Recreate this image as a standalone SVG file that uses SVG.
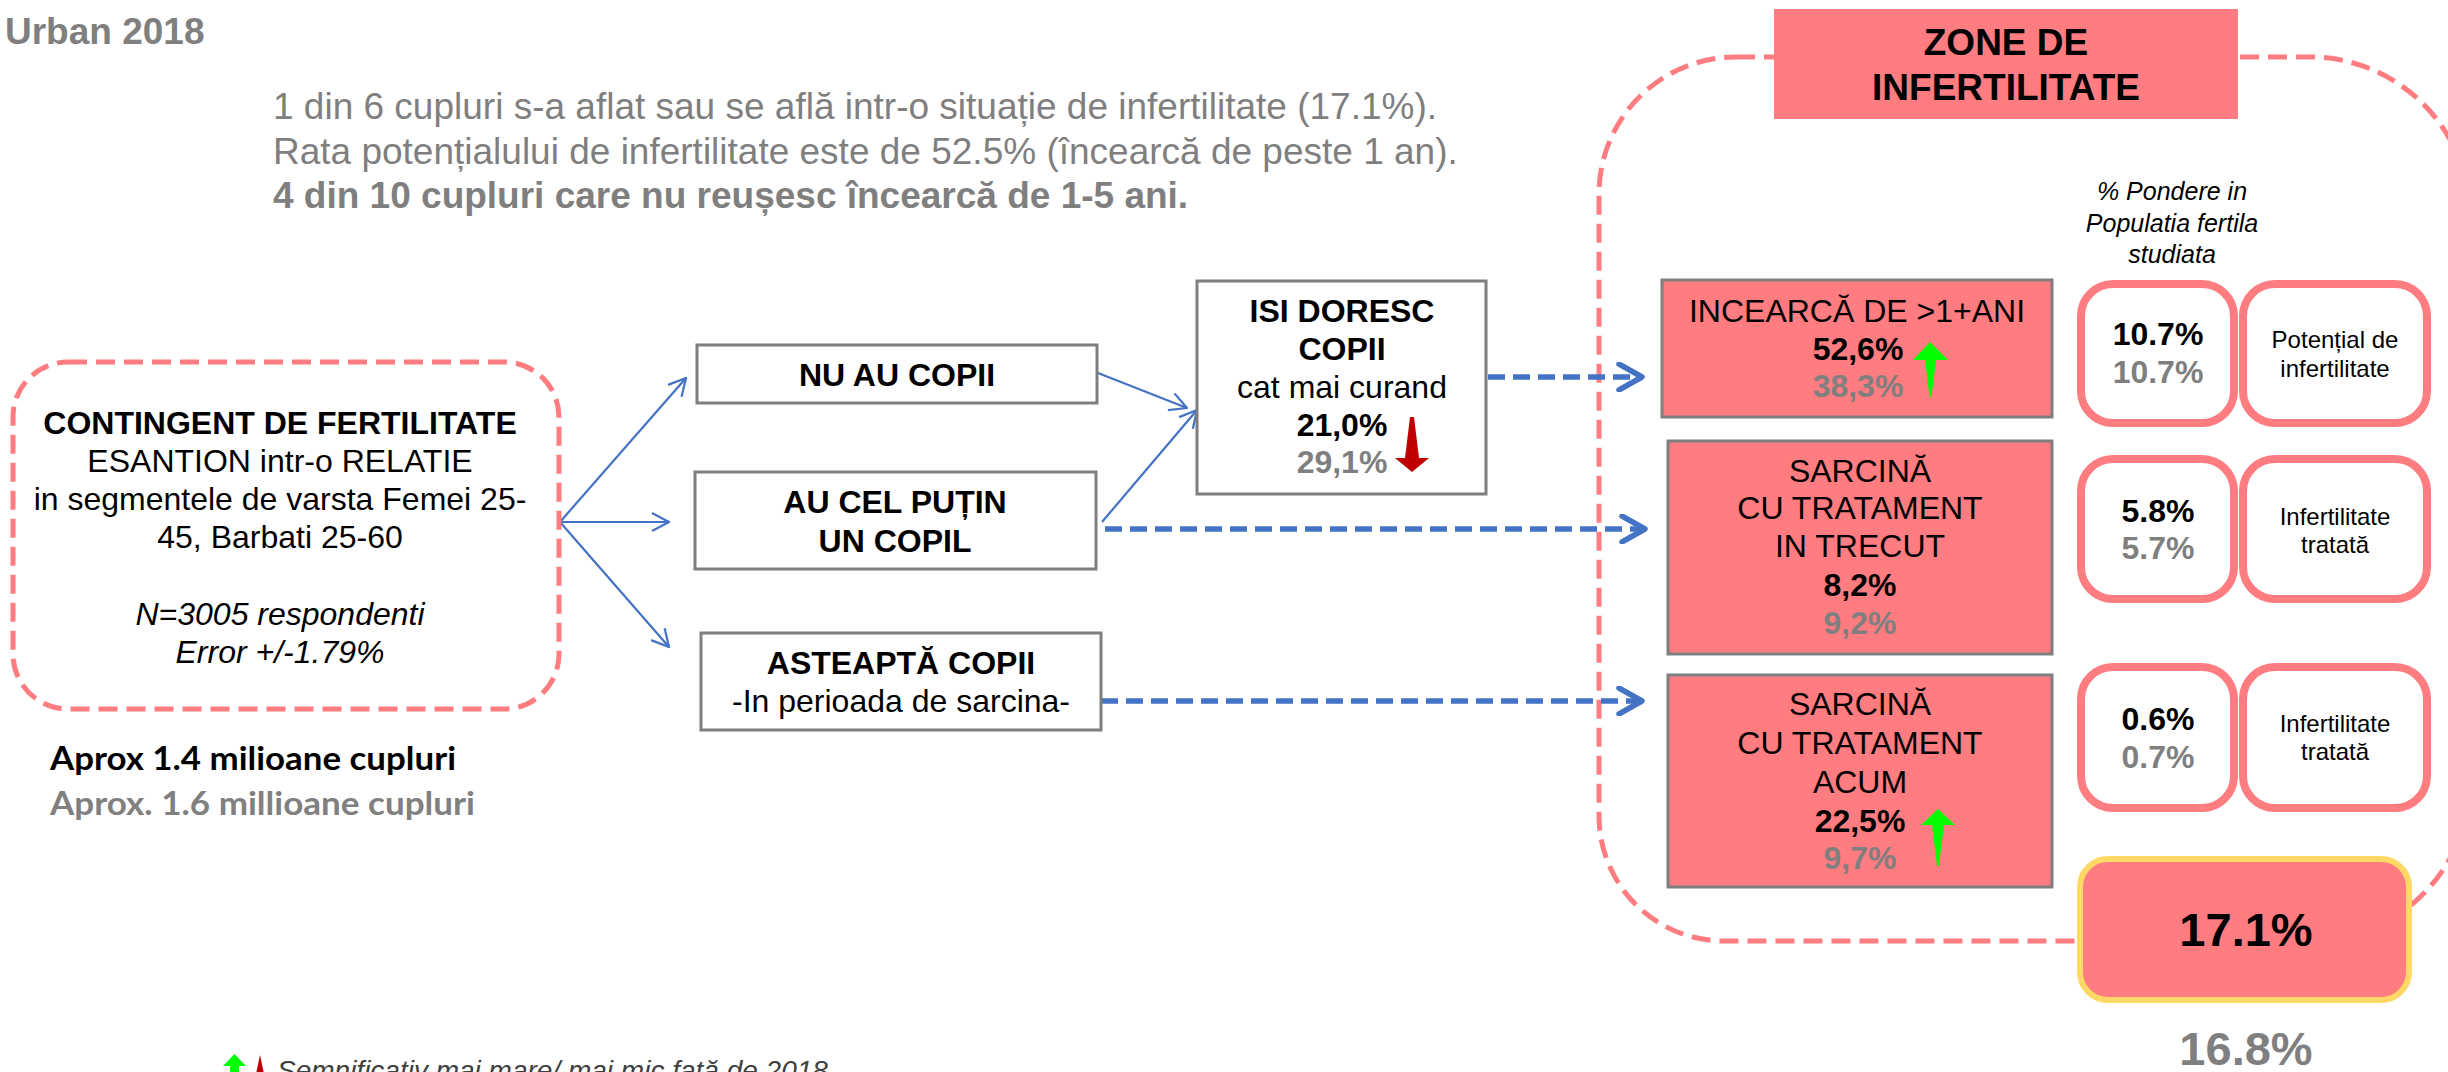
<svg xmlns="http://www.w3.org/2000/svg" width="2448" height="1072" viewBox="0 0 2448 1072">
<defs>
<style>
text{font-family:"Liberation Sans",Arial,sans-serif;}
.b{font-weight:bold}
.g{fill:#7f7f7f}
.k{fill:#000}
.c{text-anchor:middle}
.i{font-style:italic}
.box{fill:#fff;stroke:#7f7f7f;stroke-width:3}
.pbox{fill:#ff7c80;stroke:#7f7f7f;stroke-width:3}
.rbox{fill:#fff;stroke:#ff7c80;stroke-width:8}
.pdash{fill:none;stroke:#ff7c80;stroke-width:5;stroke-dasharray:19 9}
.solid{fill:none;stroke:#4472c4;stroke-width:2.2;marker-end:url(#open)}
.dash{fill:none;stroke:#4472c4;stroke-width:5.5;stroke-dasharray:17 8;marker-end:url(#chev)}
.cal{font-family:Lato,"Liberation Sans",sans-serif;font-weight:bold}
.up{fill:#00ff00}
.down{fill:#c00000}
</style>
<marker id="open" viewBox="0 0 20 20" refX="19" refY="10" markerWidth="20" markerHeight="20" markerUnits="userSpaceOnUse" orient="auto">
<path d="M2,1 L19,10 L2,19" fill="none" stroke="#4472c4" stroke-width="2.2"/>
</marker>
<marker id="chev" viewBox="0 0 30 30" refX="27" refY="15" markerWidth="30" markerHeight="30" markerUnits="userSpaceOnUse" orient="auto">
<path d="M4,2 L27,15 L4,28" fill="none" stroke="#4472c4" stroke-width="5.5" stroke-linecap="round" stroke-linejoin="round" stroke-dasharray="none"/>
</marker>
</defs>
<rect width="2448" height="1072" fill="#fff"/>

<g id="title">
<text x="5" y="44" class="b g" font-size="37">Urban 2018</text>
</g>

<g id="summary" font-size="37">
<text x="273" y="119" class="g">1 din 6 cupluri s-a aflat sau se află intr-o situație de infertilitate (17.1%).</text>
<text x="273" y="164" class="g">Rata potențialului de infertilitate este de 52.5% (încearcă de peste 1 an).</text>
<text x="273" y="208" class="g b">4 din 10 cupluri care nu reușesc încearcă de 1-5 ani.</text>
</g>

<g id="zone-container">
<path class="pdash" d="M1736 57 H2310 A160 160 0 0 1 2470 217 V781 A160 160 0 0 1 2310 941 H1724 A125 125 0 0 1 1599 816 V194 A137 137 0 0 1 1736 57 Z"/>
</g>

<g id="connectors">
<path class="solid" d="M560 522 L686 378"/>
<path class="solid" d="M560 522 L669 522"/>
<path class="solid" d="M560 522 L669 647"/>
<path class="solid" d="M1098 373 L1187 408"/>
<path class="solid" d="M1102 522 L1197 410"/>
<path class="dash" d="M1488 377 H1642"/>
<path class="dash" d="M1105 529 H1645"/>
<path class="dash" d="M1101 701 H1642"/>
</g>

<g id="contingent">
<rect class="pdash" x="13" y="362" width="546" height="347" rx="55"/>
<text x="280" y="434" class="c b" font-size="32">CONTINGENT DE FERTILITATE</text>
<text x="280" y="472" class="c" font-size="32">ESANTION intr-o RELATIE</text>
<text x="280" y="510" class="c" font-size="32">in segmentele de varsta Femei 25-</text>
<text x="280" y="548" class="c" font-size="32">45, Barbati 25-60</text>
<text x="280" y="625" class="c i" font-size="32">N=3005 respondenti</text>
<text x="280" y="663" class="c i" font-size="32">Error +/-1.79%</text>
</g>

<g id="aprox">
<text x="50" y="770" class="cal" font-size="32" fill="#000" textLength="406" lengthAdjust="spacingAndGlyphs">Aprox 1.4 milioane cupluri</text>
<text x="50" y="815" class="cal" font-size="32" fill="#808080" textLength="425" lengthAdjust="spacingAndGlyphs">Aprox. 1.6 millioane cupluri</text>
</g>

<g id="nu-au-copii">
<rect class="box" x="697" y="345" width="400" height="58"/>
<text x="897" y="386" class="c b" font-size="32">NU AU COPII</text>
</g>

<g id="au-cel-putin">
<rect class="box" x="695" y="472" width="401" height="97"/>
<text x="895" y="513" class="c b" font-size="32">AU CEL PUȚIN</text>
<text x="895" y="552" class="c b" font-size="32">UN COPIL</text>
</g>

<g id="asteapta">
<rect class="box" x="701" y="633" width="400" height="97"/>
<text x="901" y="674" class="c b" font-size="32">ASTEAPTĂ COPII</text>
<text x="901" y="712" class="c" font-size="32">-In perioada de sarcina-</text>
</g>

<g id="isi-doresc">
<rect class="box" x="1197" y="281" width="289" height="213"/>
<text x="1342" y="322" class="c b" font-size="32">ISI DORESC</text>
<text x="1342" y="360" class="c b" font-size="32">COPII</text>
<text x="1342" y="398" class="c" font-size="32">cat mai curand</text>
<text x="1342" y="436" class="c b" font-size="32">21,0%</text>
<text x="1342" y="473" class="c b g" font-size="32">29,1%</text>
<polygon class="down" points="1410,417 1414,417 1419,458 1429,458 1412,472 1395,458 1405,458"/>
</g>

<g id="zone-title">
<rect x="1774" y="9" width="464" height="110" fill="#ff7c80"/>
<text x="2006" y="55" class="c b" font-size="37">ZONE DE</text>
<text x="2006" y="100" class="c b" font-size="37">INFERTILITATE</text>
</g>

<g id="pondere">
<text x="2172" y="200" class="c i" font-size="25">% Pondere in</text>
<text x="2172" y="232" class="c i" font-size="25">Populatia fertila</text>
<text x="2172" y="263" class="c i" font-size="25">studiata</text>
</g>

<g id="incearca">
<rect class="pbox" x="1662" y="280" width="390" height="137"/>
<text x="1857" y="322" class="c" font-size="32">INCEARCĂ DE &gt;1+ANI</text>
<text x="1858" y="360" class="c b" font-size="32">52,6%</text>
<text x="1858" y="397" class="c b g" font-size="32">38,3%</text>
<polygon class="up" points="1930,342 1948,360 1936,360 1931.5,397 1929.5,397 1925,360 1913,360"/>
</g>

<g id="sarcina-trecut">
<rect class="pbox" x="1668" y="441" width="384" height="213"/>
<text x="1860" y="482" class="c" font-size="32">SARCINĂ</text>
<text x="1860" y="519" class="c" font-size="32">CU TRATAMENT</text>
<text x="1860" y="557" class="c" font-size="32">IN TRECUT</text>
<text x="1860" y="596" class="c b" font-size="32">8,2%</text>
<text x="1860" y="634" class="c b g" font-size="32">9,2%</text>
</g>

<g id="sarcina-acum">
<rect class="pbox" x="1668" y="675" width="384" height="212"/>
<text x="1860" y="715" class="c" font-size="32">SARCINĂ</text>
<text x="1860" y="754" class="c" font-size="32">CU TRATAMENT</text>
<text x="1860" y="793" class="c" font-size="32">ACUM</text>
<text x="1860" y="832" class="c b" font-size="32">22,5%</text>
<text x="1860" y="869" class="c b g" font-size="32">9,7%</text>
<polygon class="up" points="1938,809 1955,825 1944,825 1939,866 1937,866 1932,825 1921,825"/>
</g>

<g id="row1">
<rect class="rbox" x="2081" y="284" width="153" height="139" rx="32"/>
<rect class="rbox" x="2243" y="284" width="184" height="139" rx="32"/>
<text x="2158" y="345" class="c b" font-size="32">10.7%</text>
<text x="2158" y="383" class="c b g" font-size="32">10.7%</text>
<text x="2335" y="348" class="c" font-size="24">Potențial de</text>
<text x="2335" y="377" class="c" font-size="24">infertilitate</text>
</g>

<g id="row2">
<rect class="rbox" x="2081" y="459" width="153" height="140" rx="32"/>
<rect class="rbox" x="2243" y="459" width="184" height="140" rx="32"/>
<text x="2158" y="522" class="c b" font-size="32">5.8%</text>
<text x="2158" y="559" class="c b g" font-size="32">5.7%</text>
<text x="2335" y="525" class="c" font-size="24">Infertilitate</text>
<text x="2335" y="553" class="c" font-size="24">tratată</text>
</g>

<g id="row3">
<rect class="rbox" x="2081" y="667" width="153" height="141" rx="32"/>
<rect class="rbox" x="2243" y="667" width="184" height="141" rx="32"/>
<text x="2158" y="730" class="c b" font-size="32">0.6%</text>
<text x="2158" y="768" class="c b g" font-size="32">0.7%</text>
<text x="2335" y="732" class="c" font-size="24">Infertilitate</text>
<text x="2335" y="760" class="c" font-size="24">tratată</text>
</g>

<g id="total">
<rect x="2080" y="859" width="329" height="141" rx="28" fill="#ff7c80" stroke="#ffd966" stroke-width="6"/>
<text x="2246" y="946" class="c b" font-size="47">17.1%</text>
<text x="2246" y="1065" class="c b g" font-size="47">16.8%</text>
</g>

<g id="legend">
<polygon class="up" points="234.5,1054 246,1066 239,1066 239,1080 230,1080 230,1066 223,1066"/>
<polygon class="down" points="260,1055 264,1074 256,1074"/>
<text x="277" y="1080" class="i" font-size="28" fill="#404040">Semnificativ mai mare/ mai mic față de 2018</text>
</g>
</svg>
